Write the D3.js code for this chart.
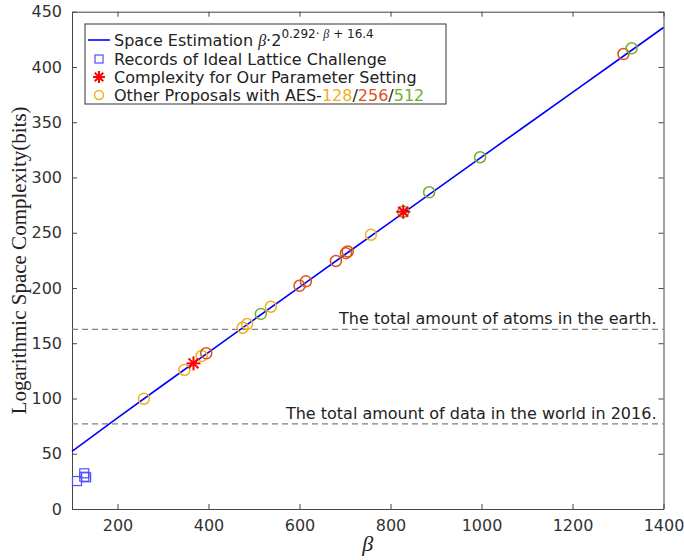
<!DOCTYPE html>
<html>
<head>
<meta charset="utf-8">
<script src="https://cdn.jsdelivr.net/npm/d3@7"></script>
<style>
  body { margin: 0; background: #fff; }
  svg text { font-family: "DejaVu Sans", sans-serif; }
</style>
</head>
<body>
<div id="chart"></div>
<script>
// fitted curve  log2(beta * 2^(0.292*beta + 16.4))
var curveBeta = [100, 200, 300, 400, 500, 600, 700, 800, 900, 1000, 1100, 1200, 1300, 1400];
var curveBits = [52.2, 82.4, 112.2, 141.8, 171.4, 200.8, 230.3, 259.6, 289.0, 318.4, 347.7, 377.0, 406.3, 435.7];

// ideal lattice challenge records
var recBeta = [111, 127, 127, 131];
var recBits = [25.3, 32.3, 29.2, 28.7];

// our parameter settings
var oursBeta = [367, 828];
var oursBits = [131.8, 269];

// other proposals
var aes128Beta = [258, 347, 385, 475, 485, 537, 757];
var aes128Bits = [99.8, 125.8, 138.5, 164, 167.4, 183, 248.2];
var aes256Beta = [395, 600, 614, 680, 702, 706, 1312];
var aes256Bits = [140.9, 202, 206, 224.4, 231.5, 233, 411.7];
var aes512Beta = [515, 828, 885, 997, 1330];
var aes512Bits = [176.5, 269, 286.6, 318.3, 416.9];

// reference levels
var refLevels = [162.5, 77];
var refLabels = ["The total amount of atoms in the earth.", "The total amount of data in the world in 2016."];

var xTicks = [200, 400, 600, 800, 1000, 1200, 1400];
var yTicks = [0, 50, 100, 150, 200, 250, 300, 350, 400, 450];

var colors = { c128: "#EDB120", c256: "#D95319", c512: "#77AC30", line: "#0000FF", rec: "#4D4DFF", star: "#FF0000" };

var svgWidth = 684, svgHeight = 560;
var margin = { top: 11.7, right: 20.5, bottom: 51, left: 72 };
var width = svgWidth - margin.left - margin.right;
var height = svgHeight - margin.top - margin.bottom;

var svg = d3.select("#chart").append("svg")
  .attr("width", svgWidth)
  .attr("height", svgHeight);

var g = svg.append("g")
  .attr("transform", `translate(${margin.left},${margin.top})`);

var x = d3.scaleLinear().domain([100, 1400]).range([0, width]);
var y = d3.scaleLinear().domain([0, 450]).range([height, 0]);

// axes, ticks inward
function styleAxis(sel) {
  sel.select(".domain").attr("stroke", "#444").attr("stroke-width", 1);
  sel.selectAll(".tick line").attr("stroke", "#444");
  sel.selectAll(".tick text").attr("fill", "#333").style("font-size", "16px");
}
g.append("g").attr("transform", `translate(0,${height})`)
  .call(d3.axisBottom(x).tickValues(xTicks).tickFormat(d3.format("d")).tickSize(-5).tickPadding(11).tickSizeOuter(0))
  .call(styleAxis);
g.append("g")
  .call(d3.axisLeft(y).tickValues(yTicks).tickSize(-5).tickPadding(10).tickSizeOuter(0))
  .call(styleAxis);
g.append("g")
  .call(d3.axisTop(x).tickValues(xTicks).tickSize(-5).tickFormat("").tickSizeOuter(0))
  .call(styleAxis);
g.append("g").attr("transform", `translate(${width},0)`)
  .call(d3.axisRight(y).tickValues(yTicks).tickSize(-5).tickFormat("").tickSizeOuter(0))
  .call(styleAxis);

// reference dashed lines
refLevels.forEach(function(lv, i) {
  g.append("line")
    .attr("x1", 0).attr("x2", width)
    .attr("y1", y(lv)).attr("y2", y(lv))
    .attr("stroke", "#808080").attr("stroke-width", 1.2)
    .attr("stroke-dasharray", "6,4");
  g.append("text")
    .attr("x", width - 7).attr("y", y(lv) - 5)
    .attr("text-anchor", "end")
    .attr("fill", "#222")
    .style("font-size", "16px")
    .text(refLabels[i]);
});

// fitted line
var line = d3.line().x(d => x(d[0])).y(d => y(d[1]));
g.append("path")
  .datum(d3.zip(curveBeta, curveBits))
  .attr("d", line)
  .attr("fill", "none")
  .attr("stroke", colors.line)
  .attr("stroke-width", 1.6);

// records squares
g.selectAll(".rec")
  .data(d3.zip(recBeta, recBits))
  .enter().append("rect")
  .attr("class", "rec")
  .attr("x", d => x(d[0]) - 4.5).attr("y", d => y(d[1]) - 4.5)
  .attr("width", 9).attr("height", 9)
  .attr("fill", "none").attr("stroke", colors.rec).attr("stroke-width", 1.2);

// proposal circles
function circles(bx, by, col) {
  g.append("g").selectAll("circle")
    .data(d3.zip(bx, by))
    .enter().append("circle")
    .attr("cx", d => x(d[0])).attr("cy", d => y(d[1]))
    .attr("r", 5.5)
    .attr("fill", "none").attr("stroke", col).attr("stroke-width", 1.5);
}
circles(aes128Beta, aes128Bits, colors.c128);
circles(aes256Beta, aes256Bits, colors.c256);
circles(aes512Beta, aes512Bits, colors.c512);

// asterisk marker
function star(sel, size) {
  var r = size / 2;
  for (var k = 0; k < 4; k++) {
    var a = k * Math.PI / 4;
    sel.append("line")
      .attr("x1", -r * Math.cos(a)).attr("y1", -r * Math.sin(a))
      .attr("x2", r * Math.cos(a)).attr("y2", r * Math.sin(a))
      .attr("stroke", colors.star).attr("stroke-width", 2);
  }
}
d3.zip(oursBeta, oursBits).forEach(function(d) {
  star(g.append("g").attr("transform", `translate(${x(d[0])},${y(d[1])})`), 14);
});

// legend
var lg = svg.append("g").attr("transform", "translate(85,24)");
lg.append("rect").attr("width", 361).attr("height", 80)
  .attr("fill", "#fff").attr("stroke", "#333").attr("stroke-width", 1);

var rowY = [16, 35, 53, 71];
var tx = 29;
lg.append("line").attr("x1", 3).attr("x2", 25).attr("y1", rowY[0]).attr("y2", rowY[0])
  .attr("stroke", colors.line).attr("stroke-width", 1.6);
lg.append("rect").attr("x", 10).attr("y", rowY[1] - 4).attr("width", 8).attr("height", 8)
  .attr("fill", "none").attr("stroke", colors.rec).attr("stroke-width", 1.2);
star(lg.append("g").attr("transform", `translate(14,${rowY[2]})`), 12);
lg.append("circle").attr("cx", 14).attr("cy", rowY[3]).attr("r", 4.5)
  .attr("fill", "none").attr("stroke", colors.c128).attr("stroke-width", 1.5);

var t0 = lg.append("text").attr("x", tx).attr("y", rowY[0] + 6).style("font-size", "16px").attr("fill", "#222");
t0.append("tspan").text("Space Estimation ");
t0.append("tspan").style("font-family", "'Liberation Serif', serif").style("font-style", "italic").text("β");
t0.append("tspan").text("·2");
t0.append("tspan").attr("dy", -8).style("font-size", "12px").text("0.292· ");
t0.append("tspan").style("font-size", "12px").style("font-family", "'Liberation Serif', serif").style("font-style", "italic").text("β");
t0.append("tspan").style("font-size", "12px").text(" + 16.4");

lg.append("text").attr("x", tx).attr("y", rowY[1] + 6).style("font-size", "16px").attr("fill", "#222")
  .text("Records of Ideal Lattice Challenge");
lg.append("text").attr("x", tx).attr("y", rowY[2] + 6).style("font-size", "16px").attr("fill", "#222")
  .text("Complexity for Our Parameter Setting");
var t3 = lg.append("text").attr("x", tx).attr("y", rowY[3] + 6).style("font-size", "16px").attr("fill", "#222");
t3.append("tspan").text("Other Proposals with AES-");
t3.append("tspan").attr("fill", colors.c128).text("128");
t3.append("tspan").text("/");
t3.append("tspan").attr("fill", colors.c256).text("256");
t3.append("tspan").text("/");
t3.append("tspan").attr("fill", colors.c512).text("512");

// axis titles
svg.append("text")
  .attr("transform", `translate(26,${margin.top + height / 2}) rotate(-90)`)
  .attr("text-anchor", "middle")
  .style("font-family", "'Liberation Serif', 'Times New Roman', serif")
  .style("font-size", "21px")
  .attr("fill", "#222")
  .text("Logarithmic Space Complexity(bits)");

svg.append("text")
  .attr("x", margin.left + width / 2).attr("y", 551)
  .attr("text-anchor", "middle")
  .style("font-family", "'Liberation Serif', 'Times New Roman', serif")
  .style("font-style", "italic")
  .style("font-size", "22px")
  .attr("fill", "#222")
  .text("β");
</script>
</body>
</html>
